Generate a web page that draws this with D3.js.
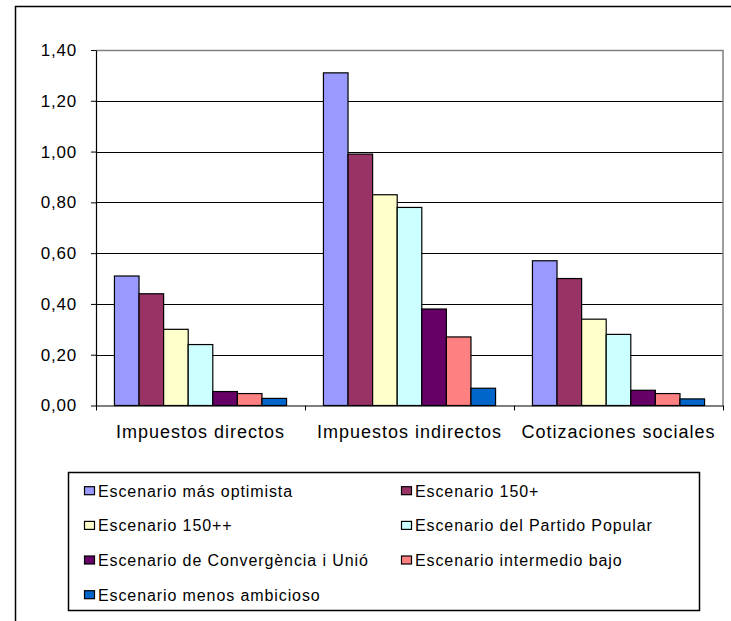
<!DOCTYPE html>
<html>
<head>
<meta charset="utf-8">
<script src="https://cdn.jsdelivr.net/npm/d3@7"></script>
<style>
  body { margin: 0; background: #fff; }
  svg { display: block; font-family: "Liberation Sans", Arial, sans-serif; }
</style>
</head>
<body>
<div class="content"></div>
<script>
// Data
const categories = ["Impuestos directos", "Impuestos indirectos", "Cotizaciones sociales"];
const seriesNames = [
  "Escenario más optimista",
  "Escenario 150+",
  "Escenario 150++",
  "Escenario del Partido Popular",
  "Escenario de Convergència i Unió",
  "Escenario intermedio bajo",
  "Escenario menos ambicioso",
];
const masOptimista = [0.51, 1.31, 0.57];
const esc150 = [0.44, 0.99, 0.5];
const esc150pp = [0.3, 0.83, 0.34];
const partidoPopular = [0.24, 0.78, 0.28];
const ciu = [0.055, 0.38, 0.06];
const intermedioBajo = [0.047, 0.27, 0.047];
const menosAmbicioso = [0.028, 0.068, 0.026];
const seriesValues = [masOptimista, esc150, esc150pp, partidoPopular, ciu, intermedioBajo, menosAmbicioso];
const yTicks = [0, 0.2, 0.4, 0.6, 0.8, 1.0, 1.2, 1.4];

const colors = ["#9999FF", "#993366", "#FFFFCC", "#CCFFFF", "#660066", "#FF8080", "#0066CC"];

// Dimensions
const W = 731, H = 621;
const plot = { left: 96, right: 723, top: 50, bottom: 405.5 };

const svg = d3.select(".content").append("svg").attr("width", W).attr("height", H);

// Outer chart border
svg.append("rect")
  .attr("x", 15.5).attr("y", 6.5)
  .attr("width", 800).attr("height", 700)
  .attr("fill", "none").attr("stroke", "#000").attr("stroke-width", 1.5);

// Scales
const y = d3.scaleLinear().domain([0, 1.4]).range([plot.bottom, plot.top]);
const x0 = d3.scaleBand().domain(categories).range([plot.left, plot.right]);
const x1 = d3.scaleBand()
  .domain(d3.range(seriesNames.length))
  .range([0, x0.bandwidth()])
  .paddingInner(0)
  .paddingOuter(0.75);

// Gridlines
svg.append("g")
  .selectAll("line")
  .data(yTicks.filter((t) => t > 0 && t < 1.4))
  .join("line")
  .attr("x1", plot.left).attr("x2", plot.right)
  .attr("y1", (d) => Math.round(y(d)) + 0.5).attr("y2", (d) => Math.round(y(d)) + 0.5)
  .attr("stroke", "#000").attr("stroke-width", 1);

// Plot border (top + right, gray)
svg.append("path")
  .attr("d", `M${plot.left},${plot.top + 0.5}H${plot.right}V${plot.bottom}`)
  .attr("fill", "none").attr("stroke", "#808080").attr("stroke-width", 1.5);

// Bars
const rows = [];
seriesValues.forEach((vals, s) => {
  vals.forEach((v, c) => rows.push({ s, cat: categories[c], v }));
});

svg.append("g")
  .selectAll("rect")
  .data(rows)
  .join("rect")
  .attr("x", (d) => x0(d.cat) + x1(d.s))
  .attr("y", (d) => y(d.v))
  .attr("width", x1.bandwidth())
  .attr("height", (d) => y(0) - y(d.v))
  .attr("fill", (d) => colors[d.s])
  .attr("stroke", "#000")
  .attr("stroke-width", 1.2);

// Y axis
const yAxis = d3.axisLeft(y)
  .tickValues(yTicks)
  .tickFormat((d) => d3.format(".2f")(d).replace(".", ","))
  .tickSize(5)
  .tickSizeOuter(0)
  .tickPadding(14);

svg.append("g")
  .attr("transform", `translate(${plot.left},0)`)
  .call(yAxis)
  .call((g) => g.select(".domain").attr("stroke", "#000").attr("stroke-width", 1.2))
  .call((g) => g.selectAll(".tick line").attr("stroke", "#000"))
  .call((g) => g.selectAll("text")
    .attr("fill", "#000")
    .style("font-size", "17px")
    .style("letter-spacing", "0.8px")
    .style("font-family", "'Liberation Sans', Arial, sans-serif"));

// X axis (boundary ticks)
const xb = d3.scaleLinear().domain([0, categories.length]).range([plot.left, plot.right]);
svg.append("g")
  .attr("transform", `translate(0,${plot.bottom})`)
  .call(d3.axisBottom(xb).tickValues(d3.range(categories.length + 1)).tickFormat("").tickSize(5).tickSizeOuter(0))
  .call((g) => g.select(".domain").attr("stroke", "#000").attr("stroke-width", 1.2))
  .call((g) => g.selectAll(".tick line").attr("stroke", "#000"));

// X labels
svg.append("g")
  .selectAll("text")
  .data(categories)
  .join("text")
  .attr("x", (d) => x0(d) + x0.bandwidth() / 2)
  .attr("y", 438)
  .attr("text-anchor", "middle")
  .style("font-size", "18px")
  .style("letter-spacing", "1px")
  .attr("fill", "#000")
  .text((d) => d);

// Legend
const legend = svg.append("g");
legend.append("rect")
  .attr("x", 68.5).attr("y", 472.5)
  .attr("width", 631).attr("height", 138)
  .attr("fill", "#fff").attr("stroke", "#000").attr("stroke-width", 1.5);

const legendCols = [84, 401];
const rowY = [490.7, 525.4, 560, 594.7];

const items = legend.selectAll("g.item")
  .data(seriesNames)
  .join("g")
  .attr("class", "item")
  .attr("transform", (d, i) => `translate(${legendCols[i % 2]},${rowY[Math.floor(i / 2)]})`);

items.append("rect")
  .attr("x", 0.5).attr("y", -4)
  .attr("width", 10).attr("height", 8)
  .attr("fill", (d, i) => colors[i])
  .attr("stroke", "#000").attr("stroke-width", 1.2);

items.append("text")
  .attr("x", 14)
  .attr("y", 6)
  .style("font-size", "16px")
  .style("letter-spacing", "0.9px")
  .attr("fill", "#000")
  .text((d) => d);
</script>
</body>
</html>
